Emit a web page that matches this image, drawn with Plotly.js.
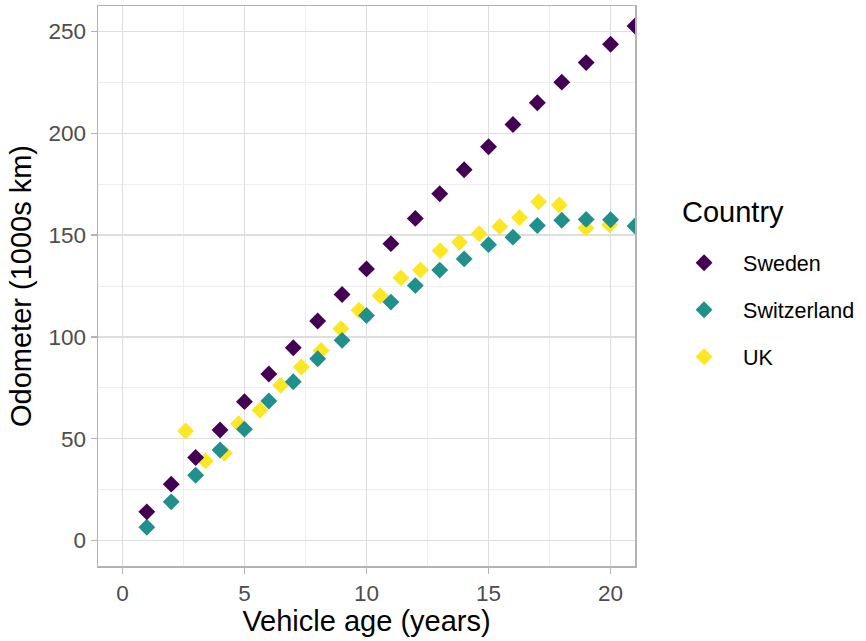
<!DOCTYPE html>
<html>
<head>
<meta charset="utf-8">
<script src="https://cdn.plot.ly/plotly-3.0.1.min.js"></script>
<style>
  html, body { margin: 0; padding: 0; background: #fff; }
  #plot { width: 866px; height: 641px; }
</style>
</head>
<body>
<div id="plot"></div>
<script>
// ── Data ──────────────────────────────────────────────────────────────────────
const countries = ['Sweden', 'Switzerland', 'UK'];
const colors    = ['#440154', '#21908C', '#FDE725'];

const ageSweden = [1, 2, 3, 4, 5, 6, 7, 8, 9, 10, 11, 12, 13, 14, 15, 16, 17, 18, 19, 20, 21];
const odoSweden = [14.1, 27.7, 40.8, 54.3, 68.2, 81.8, 94.7, 107.8, 120.8, 133.4, 145.8,
                   158.2, 170.3, 182.1, 193.4, 204.3, 215.0, 225.1, 234.7, 243.7, 252.7];

const ageSwitzerland = [1, 2, 3, 4, 5, 6, 7, 8, 9, 10, 11, 12, 13, 14, 15, 16, 17, 18, 19, 20, 21];
const odoSwitzerland = [6.5, 19.0, 32.1, 44.5, 54.7, 68.5, 78.0, 89.3, 98.3, 110.5, 117.1,
                        125.2, 132.8, 138.3, 145.3, 149.0, 154.7, 157.3, 157.7, 157.5, 154.5];

const ageUK = [2.59, 3.40, 4.18, 4.76, 5.64, 6.48, 7.33, 8.14, 8.95, 9.69, 10.56,
               11.41, 12.21, 13.02, 13.81, 14.61, 15.46, 16.27, 17.05, 17.90, 18.99, 19.96];
const odoUK = [53.8, 39.1, 42.9, 57.4, 64.0, 76.2, 85.2, 93.3, 104.0, 113.1, 120.2,
               129.0, 132.8, 142.3, 146.5, 150.7, 154.2, 158.6, 166.4, 164.8, 153.5, 155.0];

const xTicks = [0, 5, 10, 15, 20];
const yTicks = [0, 50, 100, 150, 200, 250];

// ── Style ─────────────────────────────────────────────────────────────────────
const FONT   = 'Liberation Sans, Arial, Helvetica, sans-serif';
const TICK   = { family: FONT, size: 22.5, color: '#4D4D4D' };
const TITLE  = { family: FONT, size: 29, color: '#000000' };
const BORDER = '#B3B3B3';

const AXIS_BOX = {
  showline: true, linecolor: BORDER, linewidth: 1.5, mirror: true,
  ticks: 'outside', ticklen: 6, tickcolor: BORDER, tickwidth: 1.5,
  showgrid: true, gridcolor: '#DEDEDE', gridwidth: 1.3,
  zeroline: false, tickfont: TICK, automargin: false,
};

function series(name, x, y, rank) {
  const i = countries.indexOf(name);
  return {
    type: 'scatter', mode: 'markers', name, x, y,
    legendgroup: name, legendrank: rank,
    marker: { symbol: 'diamond', size: 13, color: colors[i], line: { width: 0 } },
    cliponaxis: true,
  };
}

// UK drawn first, Sweden last (matches overlap in the reference)
const traces = [
  series('UK', ageUK, odoUK, 3),
  series('Switzerland', ageSwitzerland, odoSwitzerland, 2),
  series('Sweden', ageSweden, odoSweden, 1),
];

const layout = {
  width: 866, height: 641,
  margin: { l: 98, r: 228, t: 6, b: 75 },
  paper_bgcolor: '#ffffff',
  plot_bgcolor: '#ffffff',
  font: { family: FONT },
  showlegend: true,
  legend: {
    x: 1.056, xanchor: 'left',
    y: 0.578, yanchor: 'top',
    font: { family: FONT, size: 21.5, color: '#000000' },
    itemwidth: 68,
    tracegroupgap: 16,
    traceorder: 'grouped',
    bgcolor: 'rgba(0,0,0,0)',
  },
  annotations: [{
    text: 'Country', xref: 'paper', yref: 'paper',
    x: 1.084, y: 0.632, xanchor: 'left', yanchor: 'middle',
    showarrow: false, font: TITLE,
  }],
  xaxis: {
    ...AXIS_BOX,
    range: [-1, 21],
    tickvals: xTicks,
    minor: { dtick: 2.5, tick0: 0, showgrid: true, gridcolor: '#EEEEEE', gridwidth: 1, ticks: '' },
    title: { text: 'Vehicle age (years)', font: TITLE, standoff: 4 },
  },
  yaxis: {
    ...AXIS_BOX,
    range: [-12.5, 262.5],
    tickvals: yTicks,
    minor: { dtick: 25, tick0: 0, showgrid: true, gridcolor: '#EEEEEE', gridwidth: 1, ticks: '' },
    title: { text: 'Odometer (1000s km)', font: TITLE, standoff: 8 },
  },
};

Plotly.newPlot('plot', traces, layout, { displayModeBar: false, staticPlot: true });
</script>
</body>
</html>
